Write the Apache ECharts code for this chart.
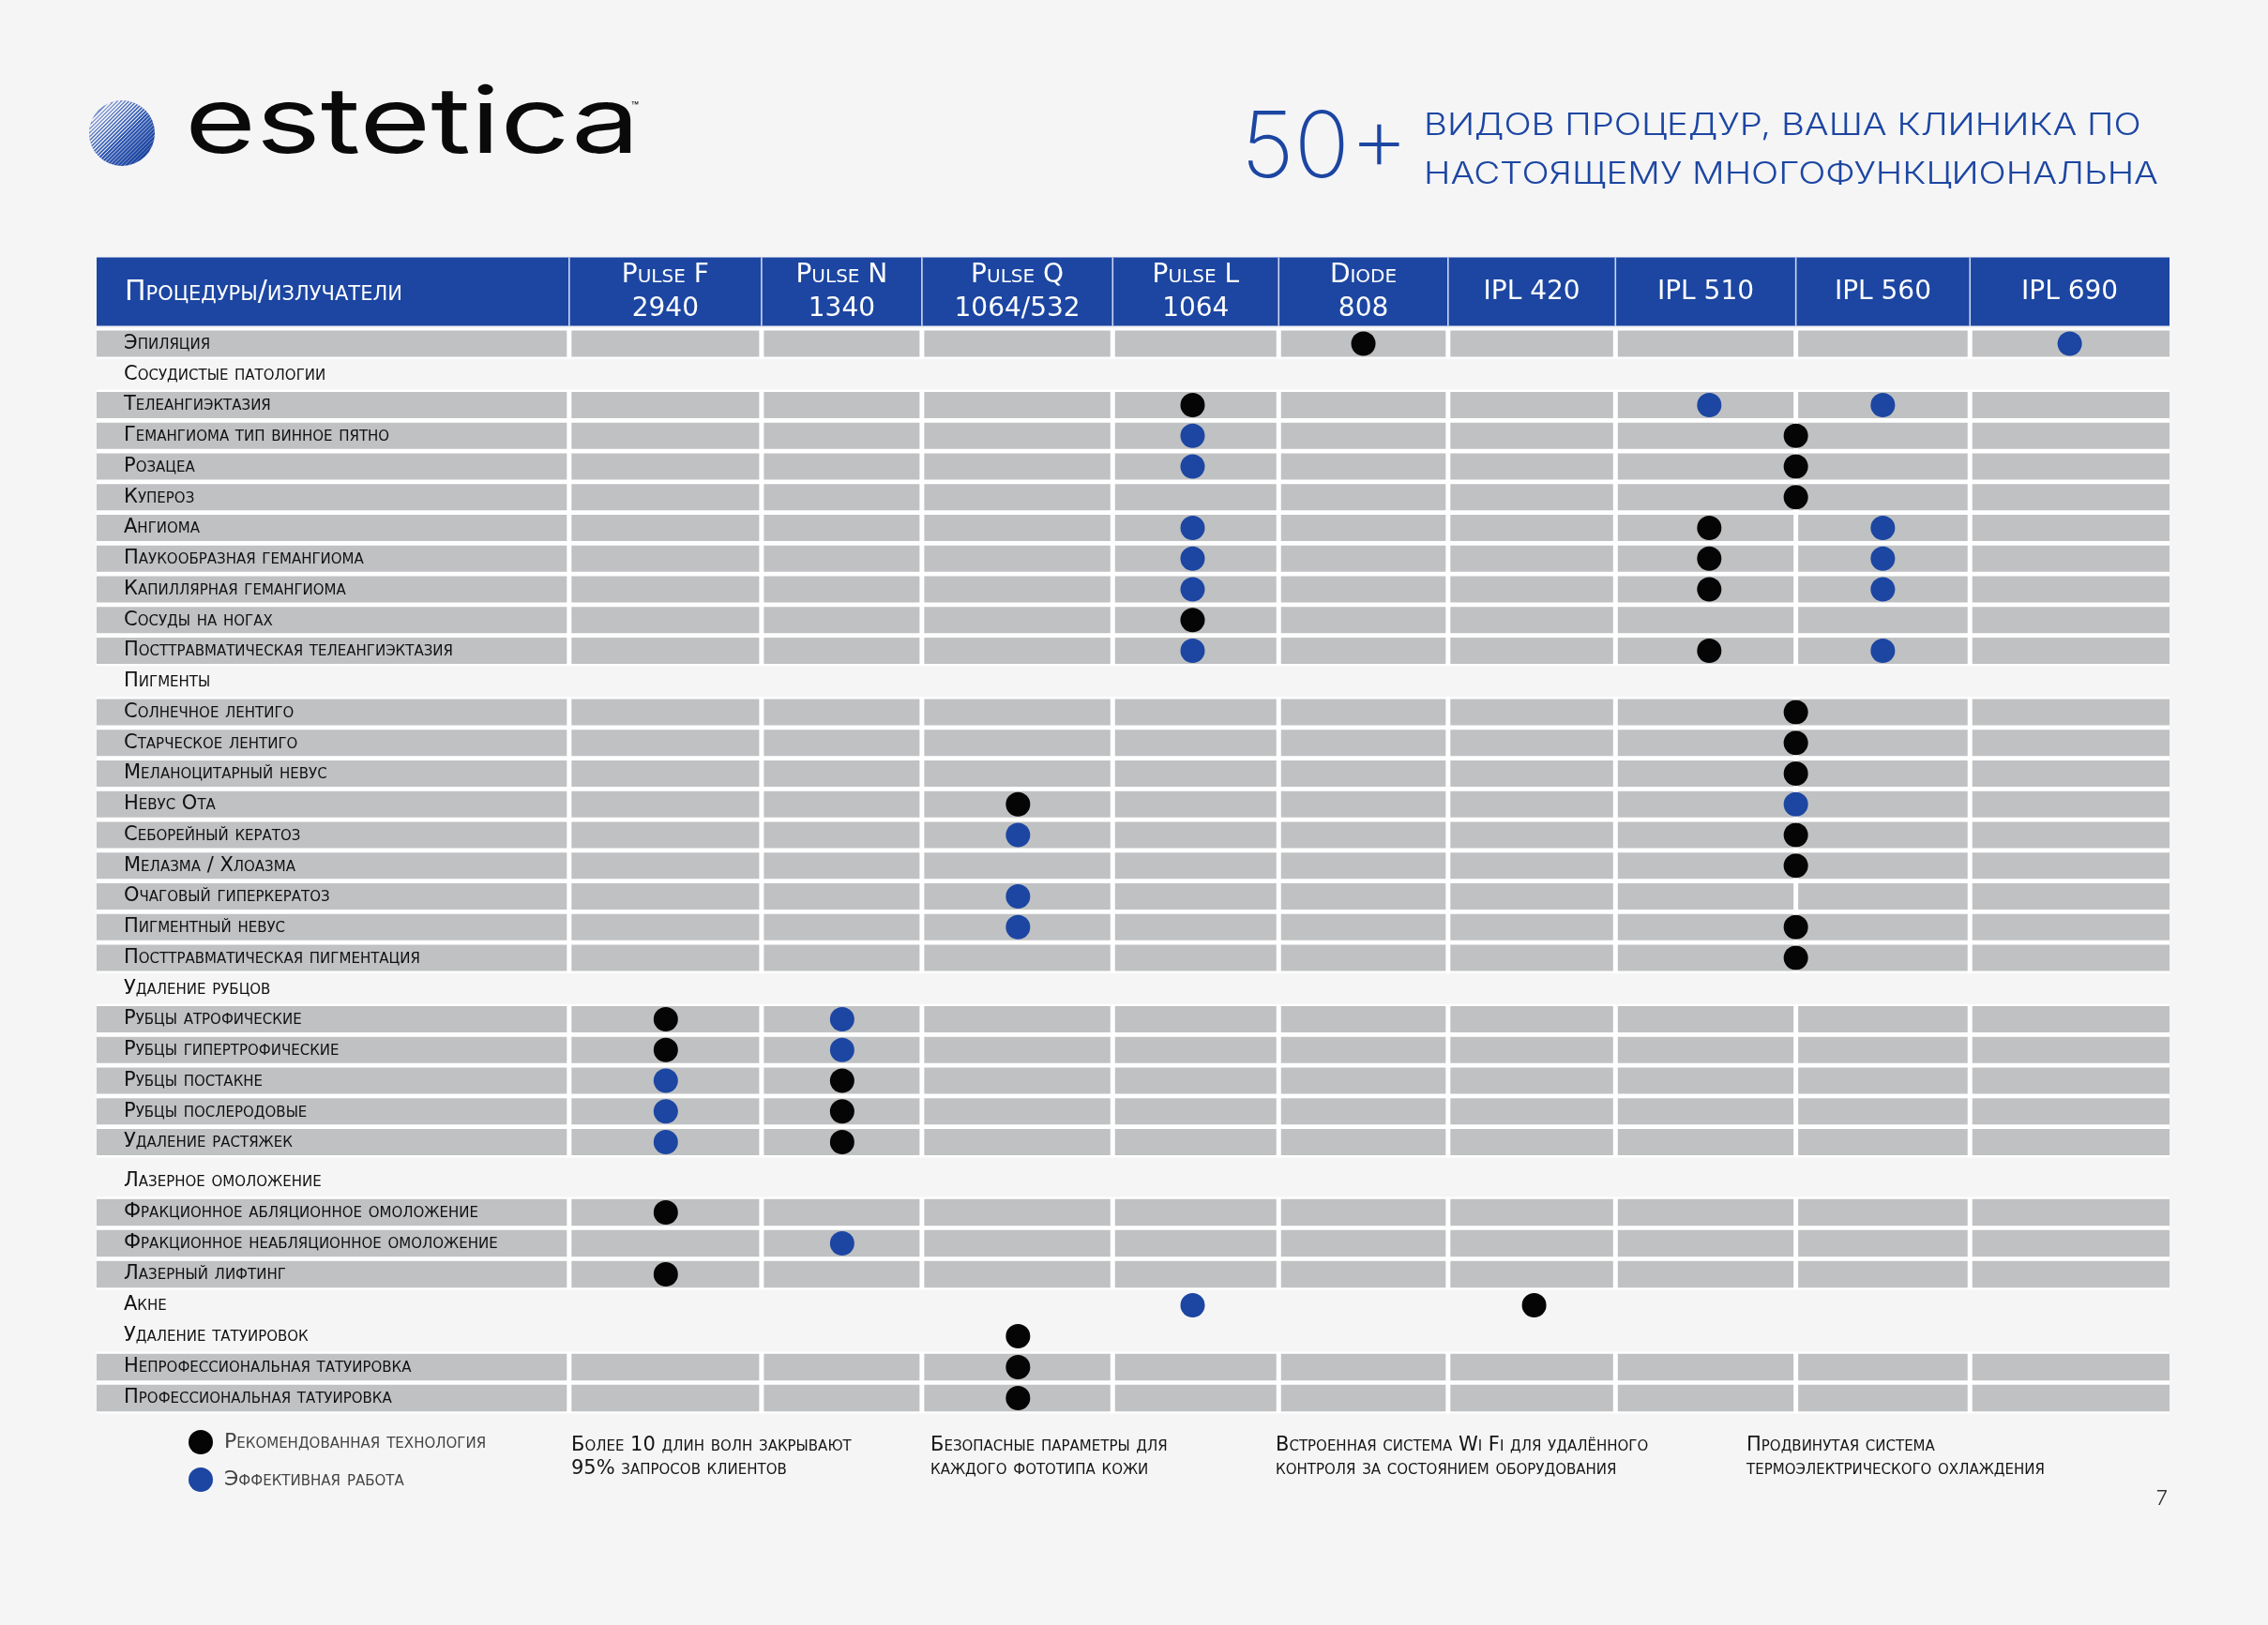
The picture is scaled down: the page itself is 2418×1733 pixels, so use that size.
<!DOCTYPE html>
<html><head><meta charset="utf-8">
<script src="https://cdn.jsdelivr.net/npm/echarts@6/dist/echarts.min.js"></script>
<style>html,body{margin:0;padding:0;background:#f5f5f6;}#c{width:2418px;height:1733px;}</style>
</head><body><div id="c"></div>
<script>
// ---------------- DATA ----------------
const headerTitle = 'Процедуры/излучатели';
const emitters = ['Pulse F\n2940', 'Pulse N\n1340', 'Pulse Q\n1064/532', 'Pulse L\n1064', 'Diode\n808', 'IPL 420', 'IPL 510', 'IPL 560', 'IPL 690'];
const procedures = [
  'Эпиляция',
  'Сосудистые патологии',
  'Телеангиэктазия',
  'Гемангиома тип винное пятно',
  'Розацеа',
  'Купероз',
  'Ангиома',
  'Паукообразная гемангиома',
  'Капиллярная гемангиома',
  'Сосуды на ногах',
  'Посттравматическая телеангиэктазия',
  'Пигменты',
  'Солнечное лентиго',
  'Старческое лентиго',
  'Меланоцитарный невус',
  'Невус Ота',
  'Себорейный кератоз',
  'Мелазма / Хлоазма',
  'Очаговый гиперкератоз',
  'Пигментный невус',
  'Посттравматическая пигментация',
  'Удаление рубцов',
  'Рубцы атрофические',
  'Рубцы гипертрофические',
  'Рубцы постакне',
  'Рубцы послеродовые',
  'Удаление растяжек',
  'Лазерное омоложение',
  'Фракционное абляционное омоложение',
  'Фракционное неабляционное омоложение',
  'Лазерный лифтинг',
  'Акне',
  'Удаление татуировок',
  'Непрофессиональная татуировка',
  'Профессиональная татуировка'
];
// rows printed without grey cells
const sections = ['Сосудистые патологии', 'Пигменты', 'Удаление рубцов', 'Лазерное омоложение', 'Акне', 'Удаление татуировок'];
// [emitter index, procedure]; 6.5 = dot shared by IPL 510 and IPL 560
const recommended = [
  [4, 'Эпиляция'],
  [3, 'Телеангиэктазия'],
  [6.5, 'Гемангиома тип винное пятно'],
  [6.5, 'Розацеа'],
  [6.5, 'Купероз'],
  [6, 'Ангиома'],
  [6, 'Паукообразная гемангиома'],
  [6, 'Капиллярная гемангиома'],
  [3, 'Сосуды на ногах'],
  [6, 'Посттравматическая телеангиэктазия'],
  [6.5, 'Солнечное лентиго'],
  [6.5, 'Старческое лентиго'],
  [6.5, 'Меланоцитарный невус'],
  [2, 'Невус Ота'],
  [6.5, 'Себорейный кератоз'],
  [6.5, 'Мелазма / Хлоазма'],
  [6.5, 'Пигментный невус'],
  [6.5, 'Посттравматическая пигментация'],
  [0, 'Рубцы атрофические'],
  [0, 'Рубцы гипертрофические'],
  [1, 'Рубцы постакне'],
  [1, 'Рубцы послеродовые'],
  [1, 'Удаление растяжек'],
  [0, 'Фракционное абляционное омоложение'],
  [0, 'Лазерный лифтинг'],
  [5, 'Акне'],
  [2, 'Удаление татуировок'],
  [2, 'Непрофессиональная татуировка'],
  [2, 'Профессиональная татуировка']
];
const effective = [
  [8, 'Эпиляция'],
  [6, 'Телеангиэктазия'], [7, 'Телеангиэктазия'],
  [3, 'Гемангиома тип винное пятно'],
  [3, 'Розацеа'],
  [3, 'Ангиома'], [7, 'Ангиома'],
  [3, 'Паукообразная гемангиома'], [7, 'Паукообразная гемангиома'],
  [3, 'Капиллярная гемангиома'], [7, 'Капиллярная гемангиома'],
  [3, 'Посттравматическая телеангиэктазия'], [7, 'Посттравматическая телеангиэктазия'],
  [6.5, 'Невус Ота'],
  [2, 'Себорейный кератоз'],
  [2, 'Очаговый гиперкератоз'],
  [2, 'Пигментный невус'],
  [1, 'Рубцы атрофические'],
  [1, 'Рубцы гипертрофические'],
  [0, 'Рубцы постакне'],
  [0, 'Рубцы послеродовые'],
  [0, 'Удаление растяжек'],
  [1, 'Фракционное неабляционное омоложение'],
  [3, 'Акне']
];
const legendNames = ['Рекомендованная технология', 'Эффективная работа'];
const brand = 'estetica';
const bigNumber = '50+';
const headline = ['Видов процедур, ваша клиника по', 'настоящему многофункциональна'];
const notes = [
  'Более 10 длин волн закрывают\n95% запросов клиентов',
  'Безопасные параметры для\nкаждого фототипа кожи',
  'Встроенная система Wi Fi для удалённого\nконтроля за состоянием оборудования',
  'Продвинутая система\nтермоэлектрического охлаждения'
];
const pageNumber = '7';

// ---------------- LAYOUT / STYLE ----------------
const FONT = 'Inter, "Noto Sans", "DejaVu Sans", sans-serif';
const SC_FONT = '"DejaVu Sans", sans-serif';
const BLUE = '#1c46a2', BLACK = '#050505', GRAY = '#c0c1c3', BG = '#f5f5f6';
const X_MIN = -3.235, X_MAX = 8.565;
const COL_EDGES = [X_MIN, -0.545, 0.550, 1.463, 2.549, 3.494, 4.458, 5.411, 6.438, 7.429, X_MAX];
// where each emitter's dots sit inside its column (axis units)
const EMITTER_X = [0.005, 1.009, 2.010, 3.004, 3.976, 4.948, 5.945, 6.933, 7.997];
const emitterX = v => (v % 1 === 0) ? EMITTER_X[v] : COL_EDGES[Math.floor(v) + 2];
const CELL_GAP = 5, ROW_GAP = 4.6, HEADER_H = 73, HEADER_GAP = 2.5;
const splitAt = procedures.indexOf('Лазерное омоложение');
const rowsA = procedures.slice(0, splitAt), rowsB = procedures.slice(splitAt);

const labelStyle = {fontFamily: SC_FONT, fontSize: 21, fontWeight: 400, fontStyle: 'small-caps', color: '#111'};

function tableItem(rows, isHeader) {
  return function (params, api) {
    const idx = api.value(1);
    const name = rows[params.dataIndex];
    const yc = api.coord([0, idx])[1];
    const band = api.size([0, 1])[1];
    const px = v => api.coord([v, idx])[0];
    const xL = px(COL_EDGES[0]), xR = px(COL_EDGES[COL_EDGES.length - 1]);
    const ch = [];
    if (isHeader) {
      const top = yc - band / 2 - HEADER_GAP - HEADER_H;
      ch.push({type: 'rect', shape: {x: xL, y: top, width: xR - xL, height: HEADER_H}, style: {fill: BLUE}});
      for (let k = 1; k < COL_EDGES.length - 1; k++) {
        const x = px(COL_EDGES[k]);
        ch.push({type: 'line', shape: {x1: x, y1: top, x2: x, y2: top + HEADER_H}, style: {stroke: 'rgba(235,240,255,0.85)', lineWidth: 1.6}});
      }
      ch.push({type: 'text', x: xL + 30, y: top + HEADER_H / 2 + 1,
        style: {text: headerTitle, fill: '#fff', fontFamily: SC_FONT, fontSize: 30, fontWeight: 400, fontStyle: 'small-caps', align: 'left', verticalAlign: 'middle'}});
      emitters.forEach((e, k) => {
        const cx = (px(COL_EDGES[k + 1]) + px(COL_EDGES[k + 2])) / 2;
        ch.push({type: 'text', x: cx, y: top + HEADER_H / 2 + 1,
          style: {text: e, fill: '#fff', fontFamily: SC_FONT, fontSize: 28, fontWeight: 400, fontStyle: 'small-caps', lineHeight: 36, align: 'center', verticalAlign: 'middle'}});
      });
      return {type: 'group', children: ch};
    }
    if (sections.indexOf(name) < 0) {
      ch.push({type: 'rect', shape: {x: xL, y: yc - band / 2, width: xR - xL, height: band}, style: {fill: '#ffffff'}});
      const h = band - ROW_GAP;
      for (let k = 0; k < COL_EDGES.length - 1; k++) {
        const a = px(COL_EDGES[k]) + (k === 0 ? 0 : CELL_GAP / 2);
        const b = px(COL_EDGES[k + 1]) - (k === COL_EDGES.length - 2 ? 0 : CELL_GAP / 2);
        ch.push({type: 'rect', shape: {x: a, y: yc - h / 2, width: b - a, height: h}, style: {fill: GRAY}});
      }
    }
    return {type: 'group', children: ch};
  };
}

function gridSeries(gi, rows) {
  const pick = list => list.filter(p => rows.indexOf(p[1]) >= 0).map(p => [emitterX(p[0]), p[1]]);
  const out = [
    {type: 'custom', xAxisIndex: gi, yAxisIndex: gi, z: 1, silent: true, clip: false,
      data: rows.map(r => [0, r]), encode: {x: 0, y: 1}, renderItem: tableItem(rows, false)},
    {type: 'scatter', name: legendNames[0], xAxisIndex: gi, yAxisIndex: gi, z: 5, symbol: 'circle', symbolSize: 26,
      itemStyle: {color: BLACK, opacity: 1}, data: pick(recommended)},
    {type: 'scatter', name: legendNames[1], xAxisIndex: gi, yAxisIndex: gi, z: 5, symbol: 'circle', symbolSize: 26,
      itemStyle: {color: BLUE, opacity: 1}, data: pick(effective)}
  ];
  if (gi === 0) out.push({type: 'custom', xAxisIndex: 0, yAxisIndex: 0, z: 1, silent: true, clip: false,
    data: [[0, rows[0]]], encode: {x: 0, y: 1}, renderItem: tableItem(rows, true)});
  return out;
}

// logo ball with diagonal stripes
const ballC = [130, 142], ballR = 35;
const ballEls = [{type: 'circle', shape: {cx: ballC[0], cy: ballC[1], r: ballR},
  style: {fill: new echarts.graphic.LinearGradient(0, 0, 1, 1, [{offset: 0, color: '#8fa3da'}, {offset: 0.5, color: '#2f58b2'}, {offset: 1, color: '#163d9a'}])}}];
for (let s = -12; s <= 12; s++) {
  const d = s * 2.9;
  if (Math.abs(d) >= ballR - 0.5) continue;
  const half = Math.sqrt(ballR * ballR - d * d);
  const n = d / Math.SQRT2, t = 1 / Math.SQRT2;
  const w = Math.max(0.25, 1.9 - (s + 12) * 0.07);
  ballEls.push({type: 'line', shape: {x1: ballC[0] + n - t * half, y1: ballC[1] + n + t * half, x2: ballC[0] + n + t * half, y2: ballC[1] + n - t * half},
    style: {stroke: BG, lineWidth: w}});
}

const noteX = [609, 992, 1360, 1862];
const graphics = ballEls.concat([
  {type: 'text', x: 197, y: 134, scaleX: 1.33, style: {text: brand, fill: '#0a0a0a', fontFamily: FONT, fontSize: 98, fontWeight: 400, verticalAlign: 'middle'}},
  {type: 'text', x: 673, y: 114, style: {text: '™', fill: '#0a0a0a', fontFamily: FONT, fontSize: 13, verticalAlign: 'middle'}},
  {type: 'text', x: 1323, y: 160, style: {text: bigNumber, fill: BLUE, fontFamily: FONT, fontSize: 98, fontWeight: 200, verticalAlign: 'middle'}},
  {type: 'text', x: 1518, y: 134, scaleX: 1.2, style: {text: headline[0].toUpperCase(), fill: BLUE, fontFamily: FONT, fontSize: 32, fontWeight: 300, verticalAlign: 'middle'}},
  {type: 'text', x: 1518, y: 186, scaleX: 1.2, style: {text: headline[1].toUpperCase(), fill: BLUE, fontFamily: FONT, fontSize: 32, fontWeight: 300, verticalAlign: 'middle'}},
  {type: 'text', x: 2305, y: 1598, style: {text: pageNumber, fill: '#333', fontFamily: FONT, fontSize: 22, fontWeight: 300, align: 'center', verticalAlign: 'middle'}}
]).concat(notes.map((n, i) => ({type: 'text', x: noteX[i], y: 1554,
  style: {text: n, fill: '#151515', fontFamily: SC_FONT, fontSize: 21, fontWeight: 400, fontStyle: 'small-caps', lineHeight: 25, verticalAlign: 'middle'}})));

const axisY = rows => ({type: 'category', data: rows, inverse: true, z: 10,
  axisLine: {show: false}, axisTick: {show: false}, splitLine: {show: false},
  axisLabel: Object.assign({inside: true, margin: 29, interval: 0}, labelStyle)});
const axisX = gi => ({type: 'value', gridIndex: gi, min: X_MIN, max: X_MAX, show: false});

const chart = echarts.init(document.getElementById('c'), null, {renderer: 'canvas'});
chart.setOption({
  backgroundColor: BG,
  animation: false,
  grid: [
    {left: 103, right: 105, top: 350.1, height: 884.3},
    {left: 103, right: 105, top: 1243.5, height: 264}
  ],
  xAxis: [axisX(0), axisX(1)],
  yAxis: [Object.assign(axisY(rowsA), {gridIndex: 0}), Object.assign(axisY(rowsB), {gridIndex: 1})],
  legend: {data: legendNames, orient: 'vertical', left: 196, top: 1520, itemWidth: 40, itemHeight: 26, itemGap: 14, icon: 'circle',
    selectedMode: false, textStyle: {fontFamily: SC_FONT, fontSize: 22, fontWeight: 400, fontStyle: 'small-caps', color: '#444'}},
  series: gridSeries(0, rowsA).concat(gridSeries(1, rowsB)),
  graphic: graphics
});
</script></body></html>
